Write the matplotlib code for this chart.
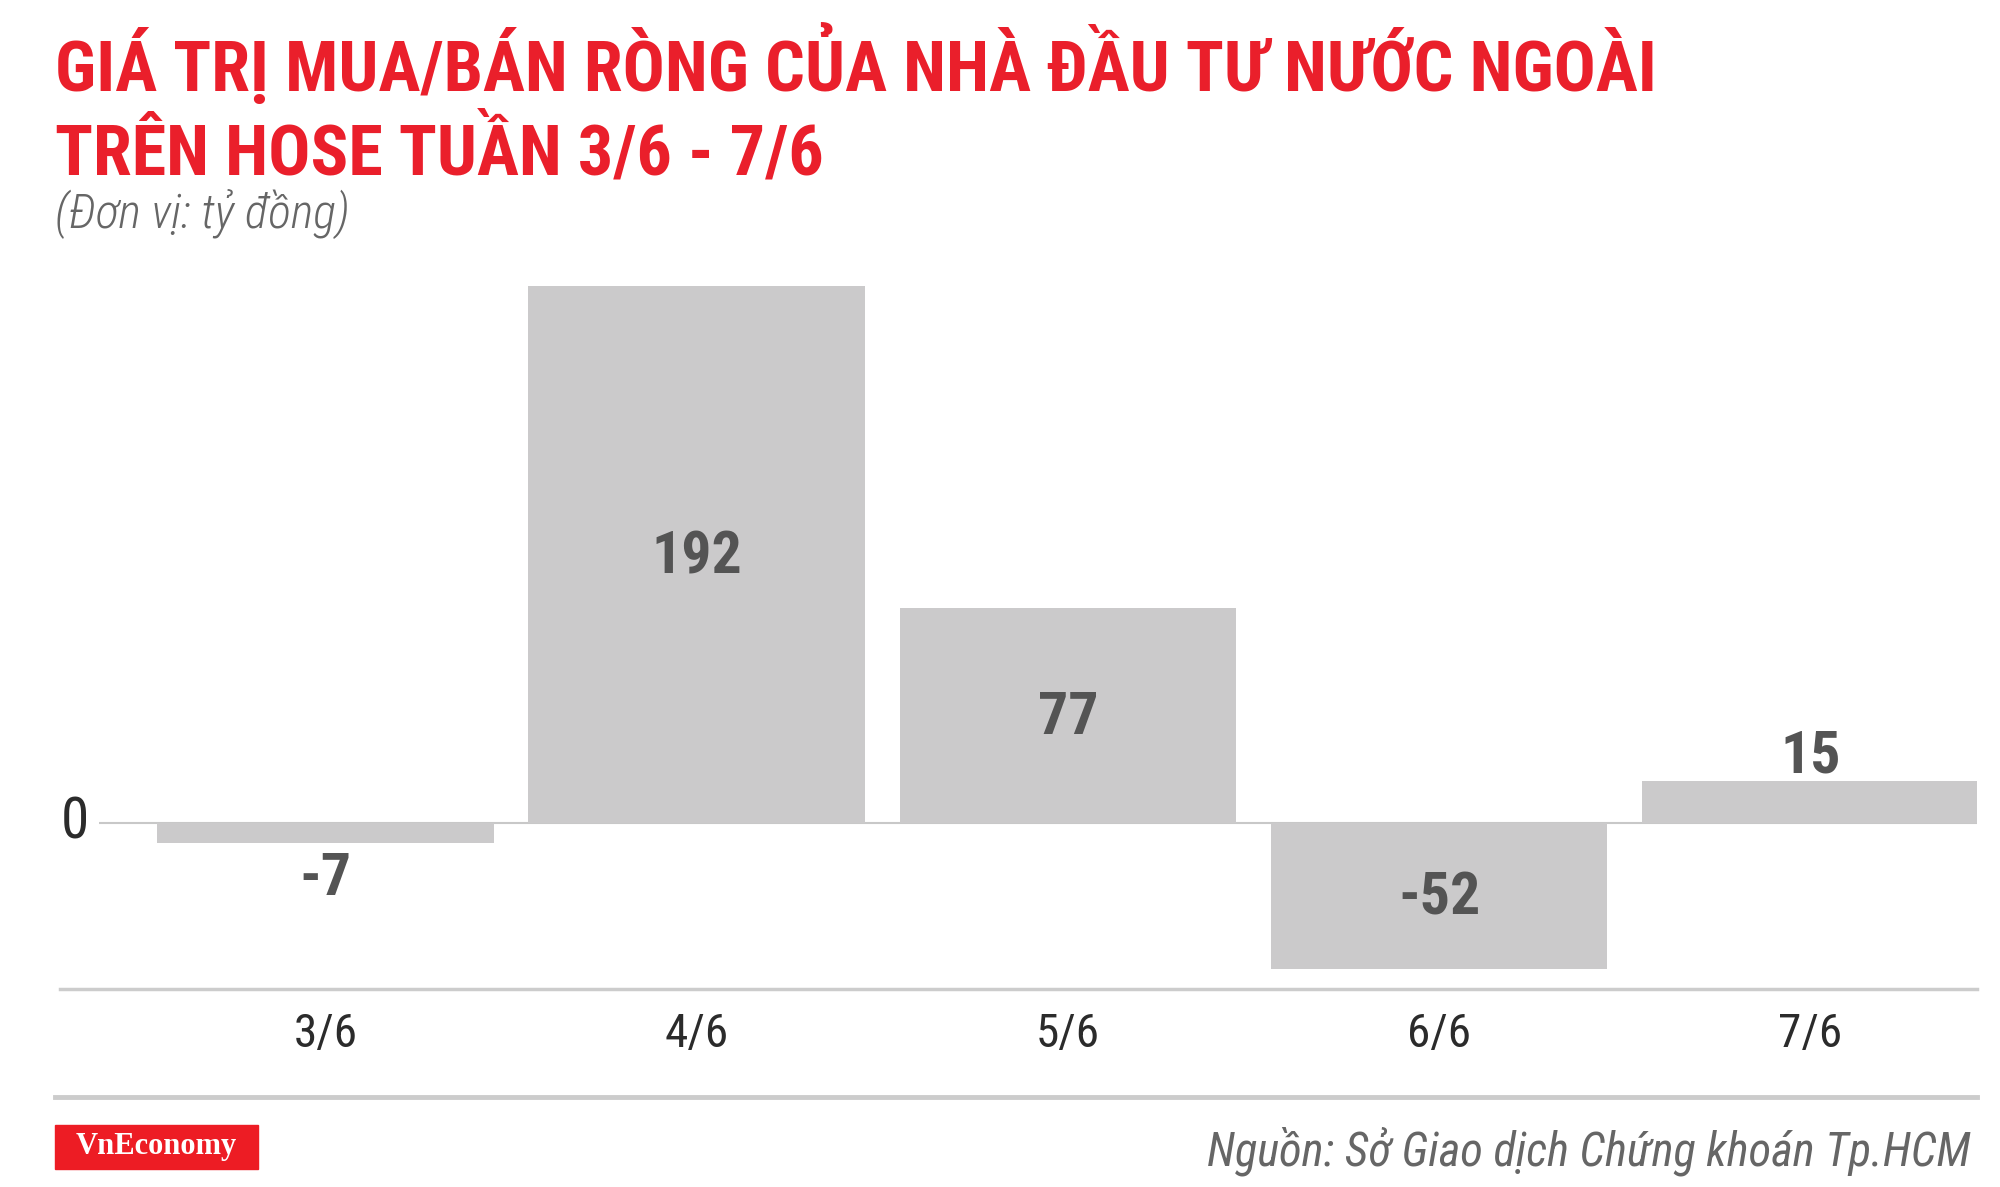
import matplotlib
matplotlib.use('Agg')
import matplotlib.pyplot as plt
from matplotlib.patches import Rectangle

# data
days = ['3/6', '4/6', '5/6', '6/6', '7/6']
net_values = [-7, 192, 77, -52, 15]

TITLE_1 = 'GIÁ TRỊ MUA/BÁN RÒNG CỦA NHÀ ĐẦU TƯ NƯỚC NGOÀI'
TITLE_2 = 'TRÊN HOSE TUẦN 3/6 - 7/6'
UNIT = '(Đơn vị: tỷ đồng)'
SOURCE = 'Nguồn: Sở Giao dịch Chứng khoán Tp.HCM'

RED = '#EA1F2B'
BAR_GRAY = '#CBCACB'
LINE_GRAY = '#CCCCCC'
COND = ['Roboto Condensed', 'DejaVu Sans']

W, H = 2000, 1187
fig = plt.figure(figsize=(W / 100, H / 100), dpi=100)

# plot area, bottom spine = grey line under the bars
ax = fig.add_axes([60 / W, 198 / H, 1917 / W, 729 / H])
x = list(range(len(days)))
ax.bar(x, net_values, width=0.907, color=BAR_GRAY, zorder=2)
ax.set_xlim(-0.715, 4.449)
ax.set_ylim(-59.2, 201.2)
ax.hlines(0, -0.61, 4.4535, color='#C8C8C8', lw=1.5, zorder=1)

for s in ['top', 'left', 'right']:
    ax.spines[s].set_visible(False)
ax.spines['bottom'].set_color(LINE_GRAY)
ax.spines['bottom'].set_linewidth(2.5)
ax.set_yticks([])
ax.set_xticks(x)
ax.set_xticklabels(days, family=COND, fontsize=34, color='#2B2B2B')
ax.tick_params(axis='x', length=0, pad=16.5)

ax.text(-0.637, 0, '0', ha='right', va='center', family=COND,
        fontsize=41, color='#2B2B2B')

# value labels: inside bar if tall enough, outside otherwise
for xi, v in zip(x, net_values):
    if abs(v) > 30:
        ax.annotate(str(v), (xi, v / 2), xytext=(0, -2), textcoords='offset points',
                    ha='center', va='center', family=COND,
                    fontsize=43, fontweight='bold', color='#545454')
    else:
        off = 18 if v > 0 else -26
        ax.annotate(str(v), (xi, v), xytext=(0, off), textcoords='offset points',
                    ha='center', va='center', family=COND,
                    fontsize=43, fontweight='bold', color='#545454')

# title and unit
fig.text(55 / W, 1 - 91 / H, TITLE_1, ha='left', va='baseline', family=COND,
         fontsize=50.5, fontweight='bold', color=RED)
fig.text(55 / W, 1 - 174 / H, TITLE_2, ha='left', va='baseline', family=COND,
         fontsize=50.5, fontweight='bold', color=RED)
fig.text(55 / W, 1 - 228 / H, UNIT, ha='left', va='baseline', family=COND,
         fontsize=34.5, fontweight='light', style='italic', color='#666666')

# footer
fig.add_artist(plt.Line2D([55 / W, 1977 / W], [1 - 1097 / H, 1 - 1097 / H],
                          color=LINE_GRAY, lw=3.5))
fig.add_artist(Rectangle((55 / W, 1 - 1169 / H), 203 / W, 44 / H,
                         transform=fig.transFigure, color='#ED1C24'))
fig.text(156 / W, 1 - 1154 / H, 'VnEconomy', ha='center', va='baseline',
         family='Liberation Serif', fontsize=22, fontweight='bold', color='white')
fig.text(1971 / W, 1 - 1165 / H, SOURCE, ha='right', va='baseline', family=COND,
         fontsize=33.5, style='italic', color='#666666')

fig.savefig('out.png', dpi=100, facecolor='white')
